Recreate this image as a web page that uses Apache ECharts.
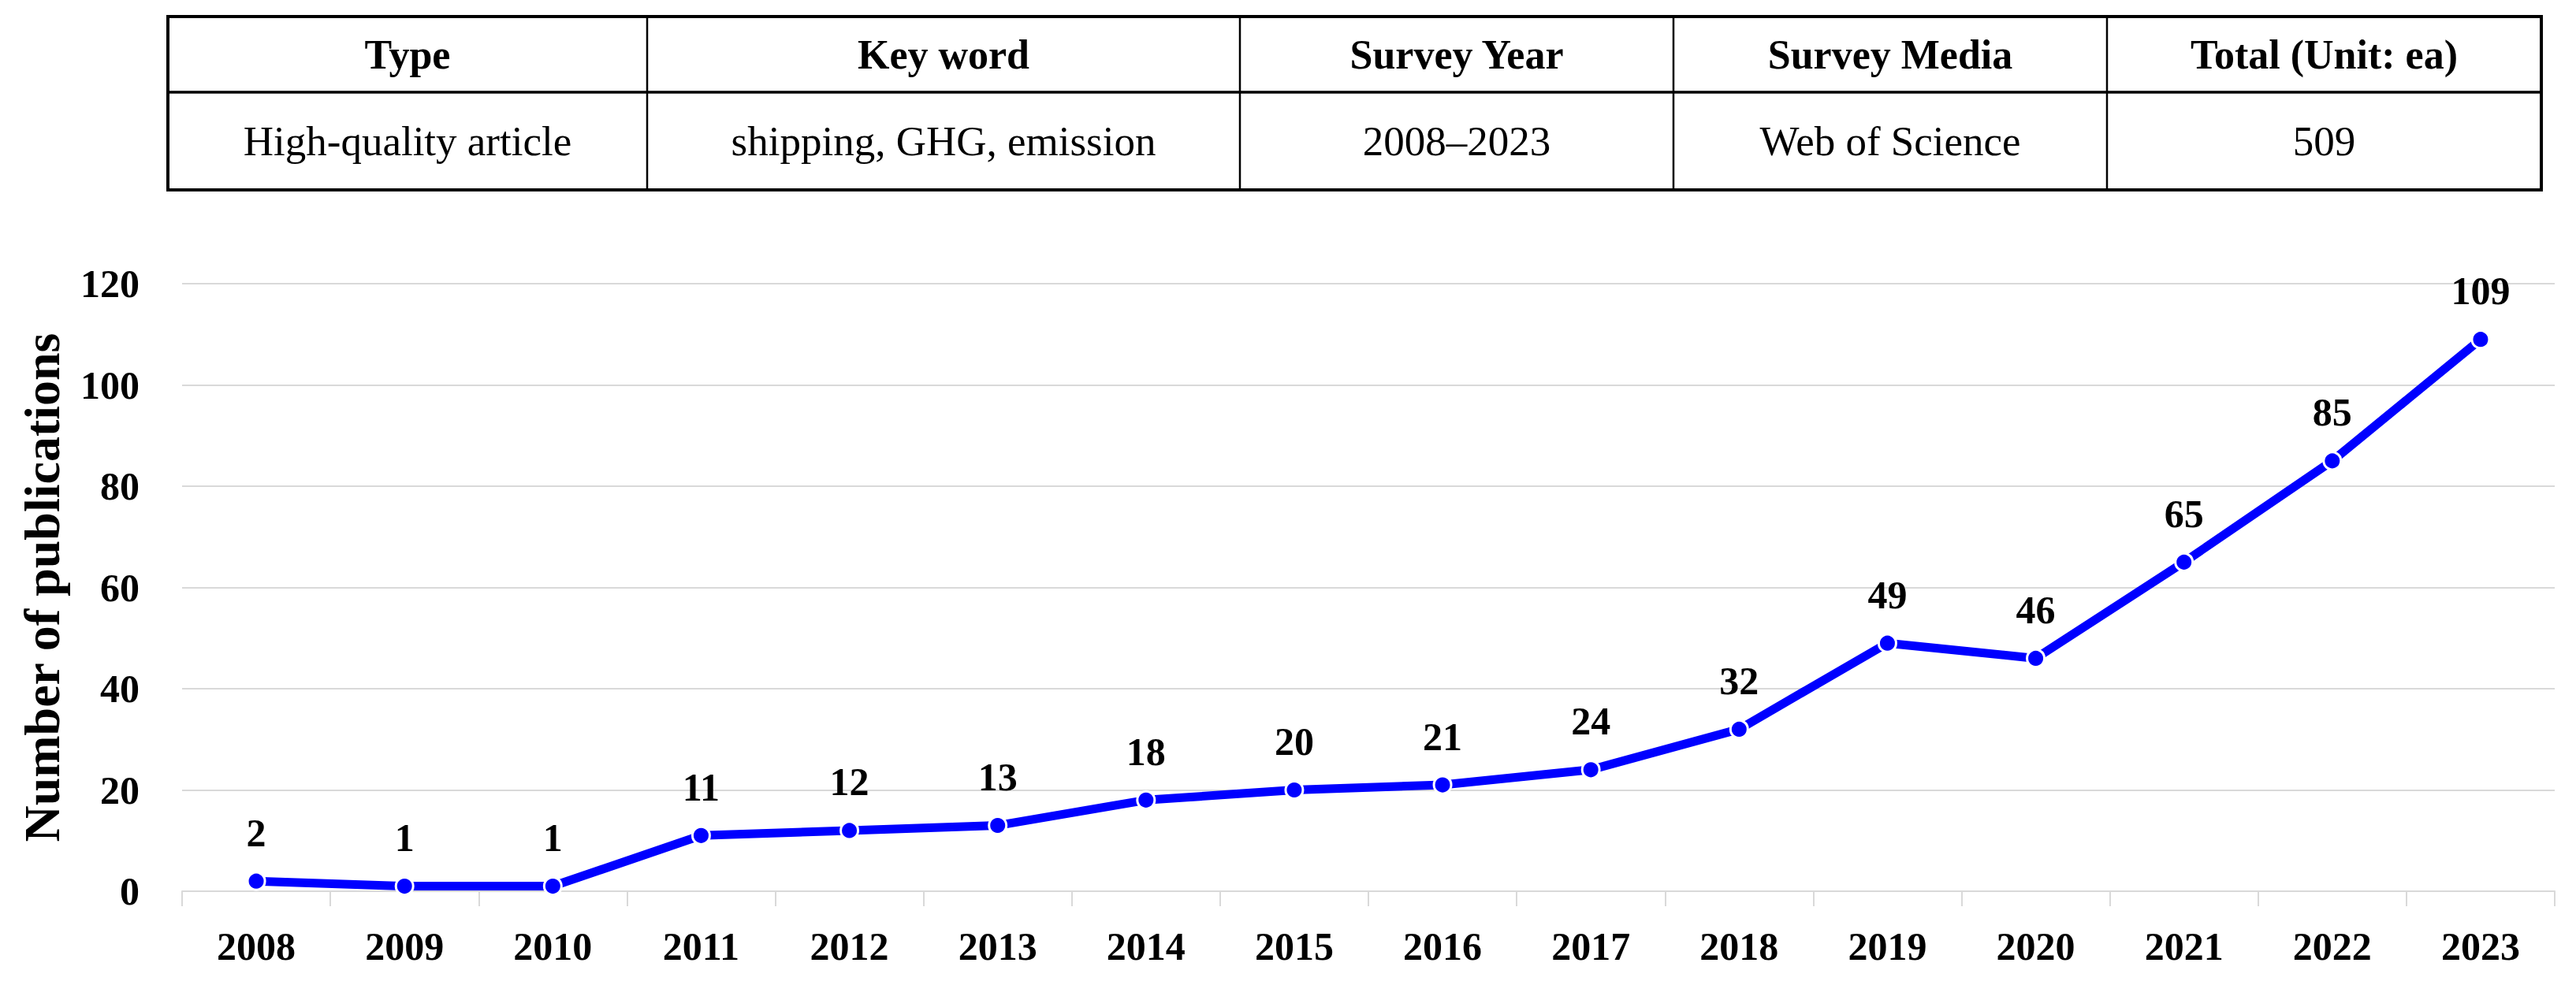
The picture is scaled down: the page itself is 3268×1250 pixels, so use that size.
<!DOCTYPE html>
<html>
<head>
<meta charset="utf-8">
<script src="https://cdn.jsdelivr.net/npm/echarts@6/dist/echarts.min.js"></script>
<style>
html,body{margin:0;padding:0;background:#fff;}
#chart{width:3268px;height:1250px;}
</style>
</head>
<body>
<div id="chart"></div>
<script>
// ---- data ----
const years = ['2008','2009','2010','2011','2012','2013','2014','2015','2016','2017','2018','2019','2020','2021','2022','2023'];
const publications = [2, 1, 1, 11, 12, 13, 18, 20, 21, 24, 32, 49, 46, 65, 85, 109];
const tableHeaders = ['Type', 'Key word', 'Survey Year', 'Survey Media', 'Total (Unit: ea)'];
const tableRow = ['High-quality article', 'shipping, GHG, emission', '2008\u20132023', 'Web of Science', '509'];
const yAxisTitle = 'Number of publications';

// ---- table layout ----
const colEdges = [213, 821, 1573, 2123, 2673, 3224];
const rowEdges = [21, 117, 241];
const FONT = '"Liberation Serif", "Times New Roman", serif';

const graphics = [];
graphics.push({type:'rect', shape:{x:colEdges[0], y:rowEdges[0], width:colEdges[5]-colEdges[0], height:rowEdges[2]-rowEdges[0]},
  style:{fill:'none', stroke:'#000', lineWidth:4}, z:10});
graphics.push({type:'line', shape:{x1:colEdges[0], y1:rowEdges[1], x2:colEdges[5], y2:rowEdges[1]},
  style:{stroke:'#000', lineWidth:3.5}, z:10});
for (let i = 1; i < colEdges.length - 1; i++) {
  graphics.push({type:'line', shape:{x1:colEdges[i], y1:rowEdges[0], x2:colEdges[i], y2:rowEdges[2]},
    style:{stroke:'#000', lineWidth:2.5}, z:10});
}
for (let i = 0; i < tableHeaders.length; i++) {
  const cx = (colEdges[i] + colEdges[i+1]) / 2;
  graphics.push({type:'text', x:cx, y:(rowEdges[0]+rowEdges[1])/2,
    style:{text:tableHeaders[i], font:'bold 52px ' + FONT, fill:'#000', textAlign:'center', textVerticalAlign:'middle'}, z:11});
  graphics.push({type:'text', x:cx, y:(rowEdges[1]+rowEdges[2])/2,
    style:{text:tableRow[i], font:'53px ' + FONT, fill:'#000', textAlign:'center', textVerticalAlign:'middle'}, z:11});
}

const chart = echarts.init(document.getElementById('chart'), null, {renderer:'svg'});
chart.setOption({
  backgroundColor:'#fff',
  animation:false,
  graphic: graphics,
  grid:{left:231, right:27, top:360, bottom:119, containLabel:false},
  xAxis:{
    type:'category',
    data: years,
    boundaryGap:true,
    axisLine:{show:true, lineStyle:{color:'#d9d9d9', width:2}},
    axisTick:{show:true, length:19, lineStyle:{color:'#d9d9d9', width:2}},
    axisLabel:{fontFamily:FONT, fontSize:50, fontWeight:'bold', color:'#000', margin:45}
  },
  yAxis:{
    type:'value',
    min:0, max:120, interval:20,
    name: yAxisTitle,
    nameLocation:'middle',
    nameGap:146,
    nameTextStyle:{fontFamily:FONT, fontSize:64, fontWeight:'bold', color:'#000'},
    axisLine:{show:false},
    axisTick:{show:false},
    axisLabel:{fontFamily:FONT, fontSize:50, fontWeight:'bold', color:'#000', margin:54},
    splitLine:{show:true, lineStyle:{color:'#d9d9d9', width:2}}
  },
  series:[{
    type:'line',
    data: publications,
    color:'#0000ff',
    lineStyle:{color:'#0000ff', width:11},
    symbol:'circle',
    symbolSize:22,
    itemStyle:{color:'#0000ff', borderColor:'#fff', borderWidth:3},
    label:{show:true, position:'top', distance:24, fontFamily:FONT, fontSize:50, fontWeight:'bold', color:'#000'}
  }]
});
</script>
</body>
</html>
